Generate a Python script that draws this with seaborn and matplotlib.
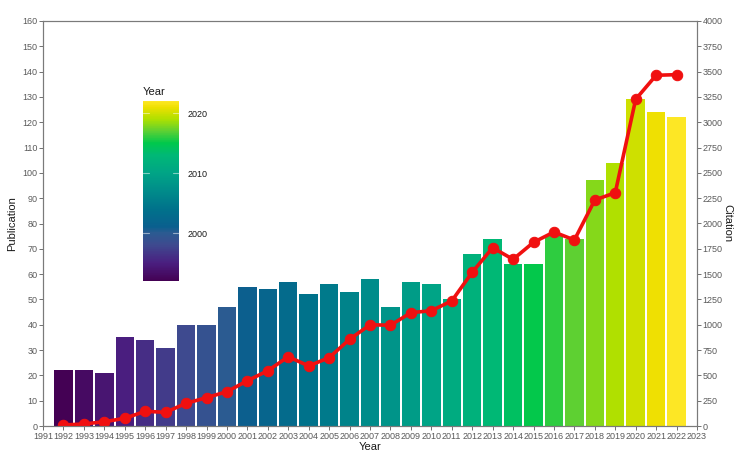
import matplotlib
matplotlib.use("Agg")
import matplotlib.pyplot as plt
import pandas as pd
import seaborn as sns
from matplotlib.colors import LinearSegmentedColormap, Normalize

sns.set_theme(style="ticks")
plt.rcParams["font.family"] = ["Liberation Sans", "DejaVu Sans"]

years = list(range(1992, 2023))
publications = [22, 22, 21, 35, 34, 31, 40, 40, 47, 55, 54, 57, 52, 56, 53, 58,
                47, 57, 56, 50, 68, 74, 64, 64, 75, 74, 97, 104, 129, 124, 122]
citations = [10, 20, 42, 76, 145, 135, 224, 280, 339, 447, 546, 684, 593, 675, 856, 1000,
             995, 1119, 1139, 1235, 1518, 1761, 1646, 1814, 1916, 1837, 2232, 2304, 3227, 3464, 3470]

df = pd.DataFrame({"Year": years, "Publication": publications, "Citation": citations})

# gradient as it looks in the reference (a more saturated viridis)
anchor_years = [1992, 1995, 1998, 2000, 2001, 2004, 2007, 2010, 2013, 2015, 2017, 2019, 2021, 2022]
anchor_colors = ["#440154", "#4a1f80", "#3e4a8f", "#2b5b91", "#0a5f8e", "#00728b", "#008c8a",
                 "#00a486", "#00b876", "#00c84c", "#5cd034", "#aee000", "#eee000", "#fde725"]
lo, hi = anchor_years[0], anchor_years[-1]
year_cmap = LinearSegmentedColormap.from_list(
    "year_grad", [((y - lo) / (hi - lo), c) for y, c in zip(anchor_years, anchor_colors)])

tick_grey = "#5a5a5a"
spine_grey = "#7a7a7a"

fig = plt.figure(figsize=(7.48, 4.59), dpi=100)
ax = fig.add_axes([43 / 748, 33 / 459, 654 / 748, 405 / 459])

sns.barplot(data=df, x="Year", y="Publication", hue="Year", palette=year_cmap,
            hue_norm=(lo, hi), native_scale=True, dodge=False, legend=False,
            width=0.9, edgecolor="none", saturation=1, ax=ax)
ax.set_xlim(1991, 2023)
ax.set_ylim(0, 160)
ax.set_xticks(range(1991, 2024))
ax.set_yticks(range(0, 161, 10))
ax.set_xlabel("Year", fontsize=8, color="#1a1a1a", labelpad=1)
ax.set_ylabel("Publication", fontsize=8, color="#1a1a1a", labelpad=4)

ax2 = ax.twinx()
sns.lineplot(data=df, x="Year", y="Citation", color="#f01010", marker="o",
             markersize=7.5, markeredgecolor="#f01010", linewidth=2.6, ax=ax2)
ax2.set_ylim(0, 4000)
ax2.set_yticks(range(0, 4001, 250))
ax2.set_ylabel("Citation", fontsize=8, color="#1a1a1a", rotation=270, labelpad=7)
ax2.set_xlim(1991, 2023)

for a in (ax, ax2):
    a.tick_params(labelsize=6.5, colors=tick_grey, length=3, width=0.6, pad=1)
    for s in a.spines.values():
        s.set_color(spine_grey)
        s.set_linewidth(0.8)
    a.spines["top"].set_visible(True)
    a.spines["right"].set_visible(True)

# colour key
cax = fig.add_axes([143 / 748, 178 / 459, 36 / 748, 180 / 459])
cb = fig.colorbar(plt.cm.ScalarMappable(norm=Normalize(lo, hi), cmap=year_cmap), cax=cax)
cb.outline.set_visible(False)
cb.set_ticks([2000, 2010, 2020])
cax.tick_params(length=0, labelsize=6.5, colors="#1a1a1a", pad=6)
for t in [2000, 2010, 2020]:
    cax.axhline(t, xmin=0, xmax=0.18, color="white", alpha=0.5, linewidth=0.8)
    cax.axhline(t, xmin=0.82, xmax=1, color="white", alpha=0.5, linewidth=0.8)
cax.set_title("Year", fontsize=8, loc="left", color="#1a1a1a", pad=4)

fig.savefig("out.png", dpi=100)
